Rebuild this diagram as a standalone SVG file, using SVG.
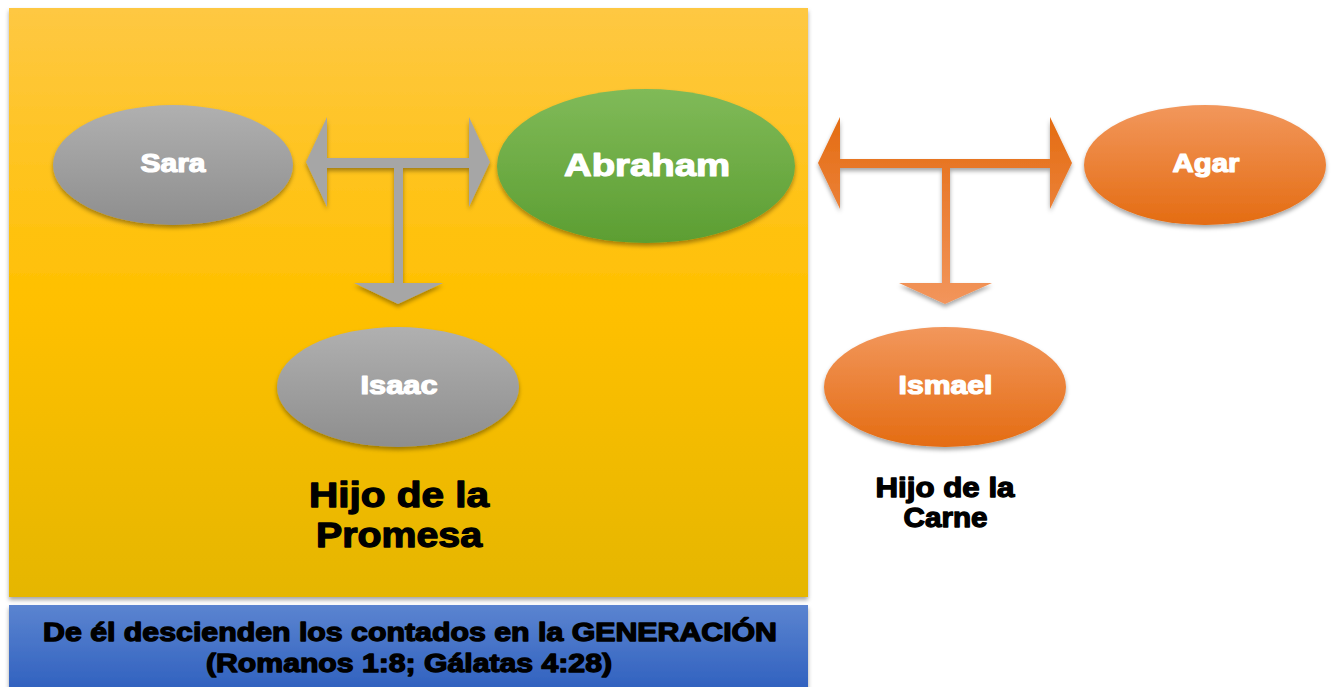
<svg xmlns="http://www.w3.org/2000/svg" width="1332" height="687" viewBox="0 0 1332 687">
  <defs>
    <linearGradient id="gYellow" x1="0" y1="0" x2="0" y2="1">
      <stop offset="0" stop-color="#FEC843"/>
      <stop offset="0.5" stop-color="#FFC000"/>
      <stop offset="1" stop-color="#E5B600"/>
    </linearGradient>
    <linearGradient id="gBlue" x1="0" y1="0" x2="0" y2="1">
      <stop offset="0" stop-color="#5B84D0"/>
      <stop offset="1" stop-color="#2E5FBE"/>
    </linearGradient>
    <linearGradient id="gGray" x1="0" y1="0" x2="0" y2="1">
      <stop offset="0" stop-color="#B0B0B0"/>
      <stop offset="1" stop-color="#8E8E8E"/>
    </linearGradient>
    <linearGradient id="gGreen" x1="0" y1="0" x2="0" y2="1">
      <stop offset="0" stop-color="#80BA58"/>
      <stop offset="1" stop-color="#5C9E32"/>
    </linearGradient>
    <linearGradient id="gOrange" x1="0" y1="0" x2="0" y2="1">
      <stop offset="0" stop-color="#F2975C"/>
      <stop offset="1" stop-color="#E46C12"/>
    </linearGradient>
    <linearGradient id="gOrangeArrow" gradientUnits="userSpaceOnUse" x1="0" y1="117" x2="0" y2="304">
      <stop offset="0" stop-color="#E46C12"/>
      <stop offset="1" stop-color="#F2955C"/>
    </linearGradient>
    <filter id="shadow" x="-10%" y="-10%" width="120%" height="130%">
      <feDropShadow dx="0" dy="3" stdDeviation="2" flood-color="#000" flood-opacity="0.35"/>
    </filter>
    <style>
      .lbl { font-family: "Liberation Sans", Arial, sans-serif; font-weight: bold; text-anchor: middle; stroke-linejoin: round; }
      .white { fill: #FFFFFF; stroke: #FFFFFF; stroke-width: 1.2; }
      .black { fill: #000000; stroke: #000000; stroke-width: 1.3; }
    </style>
  </defs>

  <rect width="1332" height="687" fill="#FFFFFF"/>

  <g id="panel-promesa">
    <rect x="9" y="8" width="799" height="589" fill="url(#gYellow)" filter="url(#shadow)"/>
  </g>

  <g id="bar-generacion">
    <rect x="9" y="605" width="799" height="90" fill="url(#gBlue)" filter="url(#shadow)"/>
    <text class="lbl black" x="410" y="641" font-size="25" textLength="734" lengthAdjust="spacingAndGlyphs">De él descienden los contados en la GENERACIÓN</text>
    <text class="lbl black" x="409" y="672" font-size="25" textLength="406" lengthAdjust="spacingAndGlyphs">(Romanos 1:8; Gálatas 4:28)</text>
  </g>

  <g id="connectors">
    <path id="arrow-promesa" d="M306,162 L327,117 L327,158 L469,158 L469,117 L490,162 L469,207 L469,168 L403,168 L403,283 L443,283 L398,304 L354,283 L394,283 L394,168 L327,168 L327,207 Z" fill="#A6A6A6" filter="url(#shadow)"/>
    <path id="arrow-carne" d="M818,163 L840,117 L840,159 L1050,159 L1050,117 L1072,163 L1050,209 L1050,168 L950,168 L950,283 L992,283 L945,304 L899,283 L942,283 L942,168 L840,168 L840,209 Z" fill="url(#gOrangeArrow)" filter="url(#shadow)"/>
  </g>

  <g id="node-sara">
    <ellipse cx="173" cy="165" rx="120" ry="60" fill="url(#gGray)" filter="url(#shadow)"/>
    <text class="lbl white" x="173" y="172" font-size="25" textLength="65" lengthAdjust="spacingAndGlyphs">Sara</text>
  </g>

  <g id="node-abraham">
    <ellipse cx="646" cy="166" rx="149" ry="77" fill="url(#gGreen)" filter="url(#shadow)"/>
    <text class="lbl white" x="647" y="176" font-size="32" textLength="166" lengthAdjust="spacingAndGlyphs">Abraham</text>
  </g>

  <g id="node-agar">
    <ellipse cx="1205" cy="165" rx="121" ry="60" fill="url(#gOrange)" filter="url(#shadow)"/>
    <text class="lbl white" x="1206" y="172" font-size="25" textLength="67" lengthAdjust="spacingAndGlyphs">Agar</text>
  </g>

  <g id="node-isaac">
    <ellipse cx="398" cy="387" rx="121" ry="60" fill="url(#gGray)" filter="url(#shadow)"/>
    <text class="lbl white" x="399" y="394" font-size="25" textLength="77" lengthAdjust="spacingAndGlyphs">Isaac</text>
  </g>

  <g id="node-ismael">
    <ellipse cx="945" cy="387" rx="121" ry="60" fill="url(#gOrange)" filter="url(#shadow)"/>
    <text class="lbl white" x="945.5" y="394" font-size="25" textLength="94" lengthAdjust="spacingAndGlyphs">Ismael</text>
  </g>

  <g id="label-promesa">
    <text class="lbl black" x="399" y="507" font-size="35" textLength="180" lengthAdjust="spacingAndGlyphs">Hijo de la</text>
    <text class="lbl black" x="399" y="547" font-size="35" textLength="166" lengthAdjust="spacingAndGlyphs">Promesa</text>
  </g>

  <g id="label-carne">
    <text class="lbl black" x="945" y="497" font-size="28" textLength="139" lengthAdjust="spacingAndGlyphs">Hijo de la</text>
    <text class="lbl black" x="945.5" y="527" font-size="28" textLength="84" lengthAdjust="spacingAndGlyphs">Carne</text>
  </g>
</svg>
